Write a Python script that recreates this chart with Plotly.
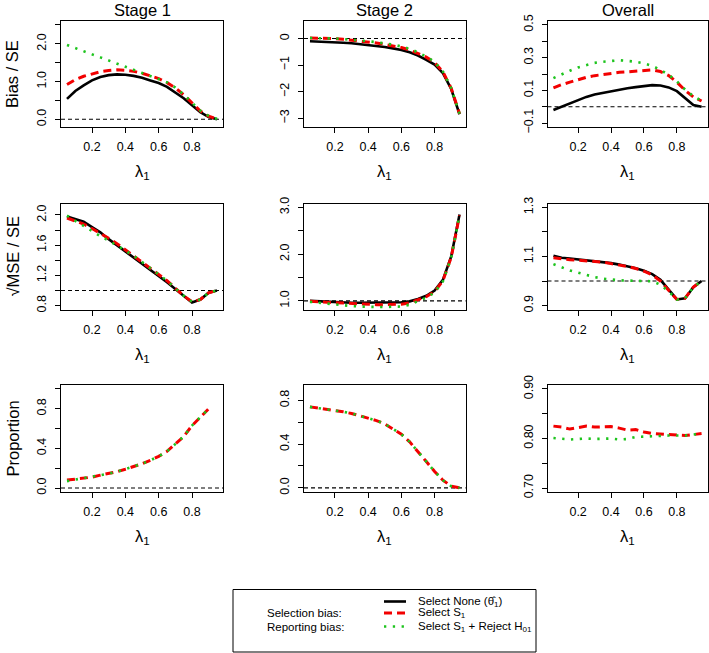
import plotly.graph_objects as go

# ---------------- data ----------------
LAMBDA = [0.05, 0.10, 0.15, 0.20, 0.25, 0.30, 0.35, 0.40, 0.45, 0.50,
          0.55, 0.60, 0.65, 0.70, 0.75, 0.80, 0.85, 0.90, 0.95]

COL_TITLES = ["Stage 1", "Stage 2", "Overall"]
ROW_TITLES = ["Bias / SE", "\u221aMSE / SE", "Proportion"]
X_TICKS = [0.2, 0.4, 0.6, 0.8]
X_TICKTEXT = ["0.2", "0.4", "0.6", "0.8"]

# Bias / SE
BIAS_S1_NONE = [0.54, 0.75, 0.90, 1.03, 1.12, 1.17, 1.19, 1.18, 1.15, 1.10,
                1.03, 0.96, 0.86, 0.72, 0.56, 0.37, 0.19, 0.06, 0.00]
BIAS_S1_SEL = [0.92, 1.05, 1.14, 1.21, 1.26, 1.29, 1.31, 1.30, 1.27, 1.22,
               1.16, 1.08, 0.97, 0.83, 0.65, 0.43, 0.22, 0.08, 0.01]
BIAS_S1_REJ = [1.97, 1.88, 1.80, 1.72, 1.64, 1.56, 1.48, 1.40, 1.32, 1.24,
               1.16, 1.08, 0.98, 0.84, 0.66, 0.44, 0.23, 0.09, 0.01]

BIAS_S2_NONE = [-0.10, -0.11, -0.12, -0.14, -0.16, -0.18, -0.21, -0.24, -0.28, -0.32,
                -0.37, -0.43, -0.52, -0.64, -0.80, -0.98, -1.30, -1.90, -2.85]
BIAS_S2_SEL = [0.02, 0.02, 0.01, 0.00, -0.03, -0.06, -0.09, -0.13, -0.17, -0.22,
               -0.27, -0.34, -0.43, -0.55, -0.70, -0.90, -1.25, -1.87, -2.83]
BIAS_S2_REJ = [0.02, 0.02, 0.01, 0.00, -0.02, -0.04, -0.07, -0.10, -0.14, -0.18,
               -0.23, -0.30, -0.39, -0.52, -0.68, -0.88, -1.24, -1.86, -2.83]

BIAS_OV_NONE = [-0.02, 0.00, 0.02, 0.04, 0.06, 0.075, 0.085, 0.095, 0.105, 0.113,
                0.12, 0.127, 0.132, 0.13, 0.118, 0.095, 0.05, 0.01, 0.00]
BIAS_OV_SEL = [0.115, 0.135, 0.15, 0.165, 0.18, 0.19, 0.198, 0.205, 0.21, 0.213,
               0.218, 0.222, 0.225, 0.215, 0.19, 0.15, 0.10, 0.06, 0.035]
BIAS_OV_REJ = [0.175, 0.20, 0.22, 0.24, 0.255, 0.268, 0.275, 0.28, 0.284, 0.28,
               0.275, 0.265, 0.25, 0.225, 0.195, 0.155, 0.105, 0.065, 0.035]

# sqrt(MSE) / SE
MSE_S1_NONE = [1.98, 1.94, 1.91, 1.84, 1.77, 1.68, 1.60, 1.52, 1.44, 1.36,
               1.28, 1.20, 1.11, 1.02, 0.93, 0.84, 0.88, 0.97, 1.00]
MSE_S1_SEL = [1.96, 1.92, 1.88, 1.82, 1.76, 1.69, 1.62, 1.54, 1.46, 1.38,
              1.30, 1.22, 1.13, 1.03, 0.93, 0.85, 0.88, 0.97, 1.00]
MSE_S1_REJ = [1.99, 1.92, 1.86, 1.79, 1.72, 1.66, 1.60, 1.53, 1.46, 1.38,
              1.30, 1.22, 1.13, 1.03, 0.93, 0.85, 0.88, 0.97, 1.00]

MSE_S2_NONE = [1.00, 0.99, 0.98, 0.97, 0.97, 0.96, 0.96, 0.96, 0.96, 0.96,
               0.96, 0.97, 0.99, 1.04, 1.11, 1.22, 1.45, 1.95, 2.85]
MSE_S2_SEL = [0.99, 0.98, 0.97, 0.96, 0.95, 0.94, 0.93, 0.93, 0.92, 0.92,
              0.92, 0.93, 0.96, 1.02, 1.09, 1.20, 1.43, 1.93, 2.83]
MSE_S2_REJ = [0.98, 0.96, 0.94, 0.92, 0.90, 0.89, 0.88, 0.87, 0.87, 0.87,
              0.87, 0.88, 0.92, 0.99, 1.07, 1.18, 1.42, 1.92, 2.83]

MSE_OV_NONE = [1.103, 1.095, 1.092, 1.088, 1.086, 1.083, 1.079, 1.073, 1.067, 1.060,
               1.052, 1.042, 1.028, 1.005, 0.965, 0.925, 0.930, 0.975, 1.000]
MSE_OV_SEL = [1.095, 1.090, 1.087, 1.085, 1.083, 1.080, 1.077, 1.071, 1.066, 1.059,
              1.051, 1.040, 1.025, 1.000, 0.962, 0.925, 0.930, 0.975, 1.000]
MSE_OV_REJ = [1.069, 1.055, 1.043, 1.034, 1.024, 1.016, 1.010, 1.005, 1.003, 1.002,
              1.002, 1.001, 0.999, 0.985, 0.958, 0.924, 0.930, 0.975, 1.000]

# Proportion
PROP_S1_SEL = [0.08, 0.09, 0.10, 0.11, 0.13, 0.145, 0.165, 0.19, 0.215, 0.245,
               0.28, 0.32, 0.37, 0.44, 0.52, 0.63, 0.72, 0.80, None]
PROP_S1_REJ = [0.07, 0.085, 0.10, 0.11, 0.13, 0.145, 0.165, 0.19, 0.215, 0.245,
               0.28, 0.32, 0.37, 0.44, 0.52, 0.63, 0.72, 0.80, None]
PROP_S2_SEL = [0.74, 0.73, 0.72, 0.71, 0.695, 0.68, 0.66, 0.64, 0.615, 0.585,
               0.54, 0.49, 0.42, 0.335, 0.24, 0.15, 0.07, 0.015, 0.00]
PROP_S2_REJ = [0.74, 0.73, 0.72, 0.71, 0.695, 0.68, 0.66, 0.64, 0.615, 0.585,
               0.54, 0.49, 0.42, 0.335, 0.24, 0.15, 0.07, 0.015, 0.00]
PROP_OV_SEL = [0.825, 0.823, 0.819, 0.822, 0.825, 0.823, 0.824, 0.824, 0.821, 0.817,
               0.818, 0.813, 0.810, 0.809, 0.807, 0.806, 0.806, 0.808, 0.810]
PROP_OV_REJ = [0.801, 0.800, 0.798, 0.799, 0.800, 0.799, 0.799, 0.800, 0.798, 0.799,
               0.803, 0.804, 0.805, 0.806, 0.806, 0.806, 0.806, 0.808, 0.810]

# y ranges, labelled ticks and unlabelled (minor) ticks per panel (row-major)
Y_RANGES = [[-0.204, 2.604], [-3.33, 0.66], [-0.124, 0.524],
            [0.748, 2.152], [0.816, 3.084], [0.884, 1.316],
            [-0.04, 1.04], [-0.038, 0.94], [0.692, 0.908]]
Y_TICKVALS = [[0, 1, 2], [-3, -2, -1, 0], [-0.1, 0.1, 0.3, 0.5],
              [0.8, 1.2, 1.6, 2.0], [1.0, 2.0, 3.0], [0.9, 1.1, 1.3],
              [0, 0.4, 0.8], [0, 0.4, 0.8], [0.70, 0.80, 0.90]]
Y_TICKTEXT = [["0.0", "1.0", "2.0"], ["\u22123", "\u22122", "\u22121", "0"],
              ["\u22120.1", "0.1", "0.3", "0.5"],
              ["0.8", "1.2", "1.6", "2.0"], ["1.0", "2.0", "3.0"], ["0.9", "1.1", "1.3"],
              ["0.0", "0.4", "0.8"], ["0.0", "0.4", "0.8"], ["0.70", "0.80", "0.90"]]
Y_MINOR = [[0.5, 1.5, 2.5], [], [0.0, 0.2, 0.4],
           [1.0, 1.4, 1.8], [1.5, 2.5], [1.0, 1.2],
           [0.2, 0.6, 1.0], [0.2, 0.6], [0.75, 0.85]]
REF_LINES = [0, 0, 0, 1, 1, 1, 0, 0, None]

SERIES = [
    (BIAS_S1_NONE, BIAS_S1_SEL, BIAS_S1_REJ),
    (BIAS_S2_NONE, BIAS_S2_SEL, BIAS_S2_REJ),
    (BIAS_OV_NONE, BIAS_OV_SEL, BIAS_OV_REJ),
    (MSE_S1_NONE, MSE_S1_SEL, MSE_S1_REJ),
    (MSE_S2_NONE, MSE_S2_SEL, MSE_S2_REJ),
    (MSE_OV_NONE, MSE_OV_SEL, MSE_OV_REJ),
    (None, PROP_S1_SEL, PROP_S1_REJ),
    (None, PROP_S2_SEL, PROP_S2_REJ),
    (None, PROP_OV_SEL, PROP_OV_REJ),
]

LEGEND_LEFT = ["", "Selection bias:", "Reporting bias:"]
LEGEND_LABELS = ["Select None (\u03b8\u0302<sub>1</sub>)", "Select S<sub>1</sub>",
                 "Select S<sub>1</sub> + Reject H<sub>01</sub>"]

# ---------------- styling / layout ----------------
W, H = 709, 653
FONT = "Liberation Sans, Arial, Helvetica, sans-serif"
GREEN = "#1DC41D"
RED = "#F20000"
STYLES = [dict(color="black", width=2.6, dash="solid"),
          dict(color=RED, width=3.0, dash="8px,5px"),
          dict(color=GREEN, width=2.6, dash="2.3px,6.5px")]
COLS_PX = [(61, 223), (304, 465.5), (547.5, 707.5)]
ROWS_PX = [(21, 127), (203.5, 309.5), (385, 492)]
X_RANGE = [0.014, 0.986]


def px_x(v):
    return v / W


def px_y(v):
    return 1 - v / H


fig = go.Figure()
layout = dict(template="none", width=W, height=H, autosize=False,
              margin=dict(l=0, r=0, t=0, b=0, pad=0),
              paper_bgcolor="white", plot_bgcolor="white",
              font=dict(family=FONT, color="black", size=12),
              showlegend=False)

annotations = []
shapes = []

for k in range(9):
    r, c = divmod(k, 3)
    idx = k + 1
    xa = "xaxis" if idx == 1 else f"xaxis{idx}"
    ya = "yaxis" if idx == 1 else f"yaxis{idx}"
    xr = "x" if idx == 1 else f"x{idx}"
    yr = "y" if idx == 1 else f"y{idx}"
    x0p, x1p = COLS_PX[c]
    y0p, y1p = ROWS_PX[r]
    common = dict(showline=True, mirror=True, linecolor="black", linewidth=1,
                  ticks="outside", ticklen=5, tickwidth=1, tickcolor="black",
                  showgrid=False, zeroline=False, automargin=False,
                  tickfont=dict(size=12.5, family=FONT, color="black"))
    layout[xa] = dict(domain=[px_x(x0p), px_x(x1p)], range=X_RANGE, anchor=yr,
                      tickmode="array", tickvals=X_TICKS, ticktext=X_TICKTEXT,
                      ticklabelstandoff=3, **common)
    ymin = dict(tickmode="array", tickvals=Y_MINOR[k], ticks="outside", ticklen=5,
                tickwidth=1, tickcolor="black", showgrid=False)
    layout[ya] = dict(domain=[px_y(y1p), px_y(y0p)], range=Y_RANGES[k], anchor=xr,
                      tickmode="array", tickvals=Y_TICKVALS[k], ticktext=Y_TICKTEXT[k],
                      tickangle=-90, ticklabelstandoff=4, minor=ymin, **common)

    for s, style in zip(SERIES[k], STYLES):
        if s is None:
            continue
        fig.add_trace(go.Scatter(x=LAMBDA, y=s, mode="lines", line=style,
                                 xaxis=xr, yaxis=yr, hoverinfo="skip"))

    if REF_LINES[k] is not None:
        shapes.append(dict(type="line", xref=f"{xr} domain", x0=0, x1=1,
                           yref=yr, y0=REF_LINES[k], y1=REF_LINES[k],
                           line=dict(color="black", width=1.1, dash="4px,3px"), layer="below"))

    annotations.append(dict(text="\u03bb<sub>1</sub>", xref="paper", yref="paper",
                            x=px_x((x0p + x1p) / 2), y=px_y(y1p + 45),
                            showarrow=False, font=dict(size=16.5, family=FONT),
                            xanchor="center", yanchor="middle"))

for c in range(3):
    x0p, x1p = COLS_PX[c]
    annotations.append(dict(text=COL_TITLES[c], xref="paper", yref="paper",
                            x=px_x((x0p + x1p) / 2), y=px_y(10), showarrow=False,
                            font=dict(size=16.5, family=FONT),
                            xanchor="center", yanchor="middle"))
for r in range(3):
    y0p, y1p = ROWS_PX[r]
    annotations.append(dict(text=ROW_TITLES[r], xref="paper", yref="paper",
                            x=px_x(12), y=px_y((y0p + y1p) / 2), showarrow=False,
                            textangle=-90, font=dict(size=16.5, family=FONT),
                            xanchor="center", yanchor="middle"))

# legend box drawn by hand
LEG_BOX = (233, 589.5, 536, 652)
shapes.append(dict(type="rect", xref="paper", yref="paper",
                   x0=px_x(LEG_BOX[0]), x1=px_x(LEG_BOX[2]),
                   y0=px_y(LEG_BOX[3]), y1=px_y(LEG_BOX[1]),
                   line=dict(color="black", width=1), fillcolor="rgba(0,0,0,0)"))
LEG_ROWS = [601.5, 613, 626.5]
for i, yy in enumerate(LEG_ROWS):
    st = STYLES[i]
    shapes.append(dict(type="line", xref="paper", yref="paper",
                       x0=px_x(384), x1=px_x(406), y0=px_y(yy), y1=px_y(yy),
                       line=dict(color=st["color"], width=st["width"], dash=st["dash"])))
    annotations.append(dict(text=LEGEND_LABELS[i], xref="paper", yref="paper",
                            x=px_x(416), y=px_y(yy), showarrow=False,
                            font=dict(size=11.5, family=FONT),
                            xanchor="left", yanchor="middle"))
    if LEGEND_LEFT[i]:
        annotations.append(dict(text=LEGEND_LEFT[i], xref="paper", yref="paper",
                                x=px_x(264.5), y=px_y(yy), showarrow=False,
                                font=dict(size=11.5, family=FONT),
                                xanchor="left", yanchor="middle"))

layout["annotations"] = annotations
layout["shapes"] = shapes
fig.update_layout(**layout)
fig.write_html("out.html", config={"displayModeBar": False},
               post_script="document.body.style.margin='0px';document.body.style.overflow='hidden';")
